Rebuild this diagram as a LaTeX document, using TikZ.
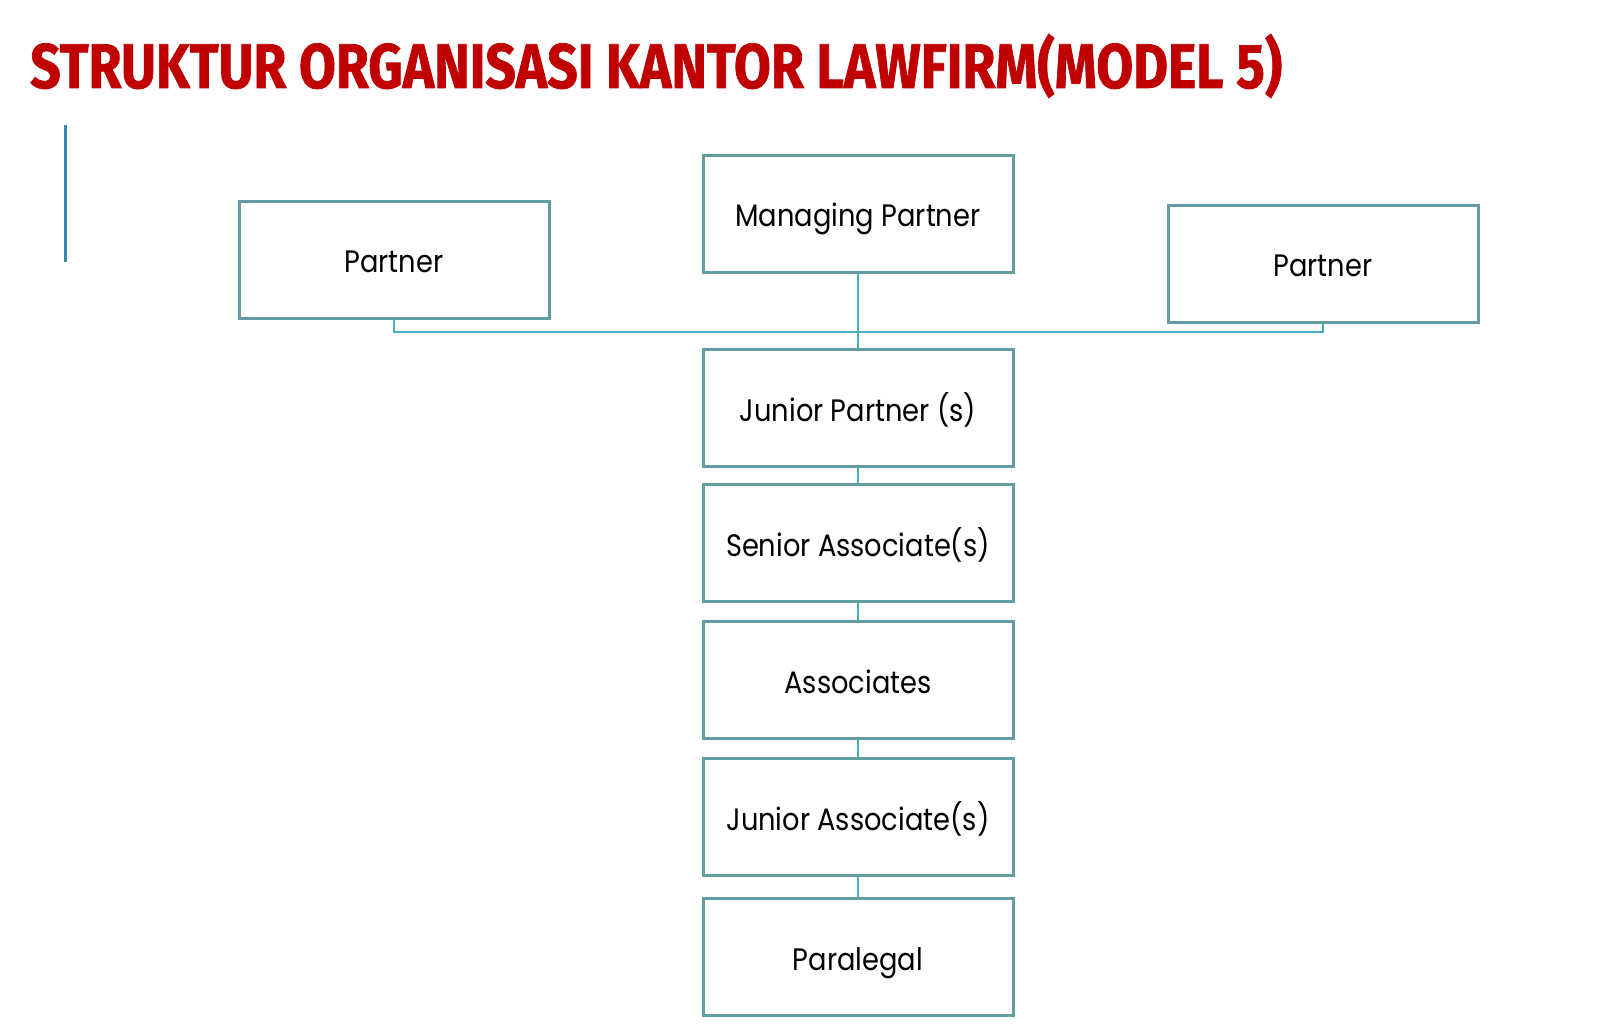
\documentclass[tikz,border=0pt]{standalone}
\usepackage{fontspec}
\setmainfont{Poppins}[FakeStretch=0.88]
\newfontfamily\titlefont{Fira Sans}[FakeBold=1.2]
\definecolor{titlered}{RGB}{192,0,0}
\definecolor{boxcol}{RGB}{98,158,160}
\definecolor{linkcol}{RGB}{75,172,198}
\definecolor{barcol}{RGB}{49,140,170}
\tikzset{
  post/.style={draw=boxcol,line width=3pt,minimum width=310pt,minimum height=117pt,inner sep=0pt,
    text height=26pt,text depth=0pt,font=\fontsize{31}{34}\selectfont},
  link/.style={draw=linkcol,line width=2pt}
}
\begin{document}
\begin{tikzpicture}[x=1pt,y=-1pt]
    \useasboundingbox (0,0) rectangle (1600,1030);
    %% title
    \node[anchor=base west,text=titlered,inner sep=0pt] (title) at (30,88)
        {\resizebox{1252pt}{\height}{\titlefont\bfseries\fontsize{63}{63}\selectfont STRUKTUR ORGANISASI KANTOR LAWFIRM(MODEL 5)}};
    %% side bar
    \draw[barcol,line width=3pt] (65,125) -- (65,262);
    %% top row
    \node[post] (mp) at (858,213.5) {Managing Partner};
    \node[post] (pl) at (394,259.5) {Partner};
    \node[post] (pr) at (1323,263.5) {Partner};
    %% chain
    \node[post] (jp) at (858,408) {Junior Partner (s)};
    \node[post] (sa) at (858,543) {Senior Associate(s)};
    \node[post] (as) at (858,680) {Associates};
    \node[post] (ja) at (858,817) {Junior Associate(s)};
    \node[post] (pg) at (858,957) {Paralegal};
    %% links
    \coordinate (bus) at (394,332);
    \draw[link] (pl.south) -- (bus) -| (pr.south);
    \draw[link] (mp.south) -- (jp.north);
    \foreach \a/\b in {jp/sa,sa/as,as/ja,ja/pg} \draw[link] (\a.south) -- (\b.north);
\end{tikzpicture}
\end{document}
